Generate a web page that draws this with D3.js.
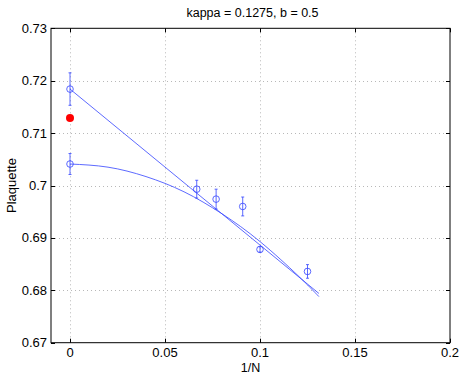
<!DOCTYPE html>
<html>
<head>
<meta charset="utf-8">
<script src="https://cdn.jsdelivr.net/npm/d3@7"></script>
<style>
  html, body { margin: 0; padding: 0; background: #fff; }
  svg { display: block; font-family: "Liberation Sans", Arial, Helvetica, sans-serif; }
</style>
</head>
<body>
<svg id="chart" width="463" height="377"></svg>
<script>
// ---- data ----
const title = "kappa = 0.1275, b = 0.5";
const xLabel = "1/N";
const yLabel = "Plaquette";
const xTicks = [0, 0.05, 0.1, 0.15, 0.2];
const xTickLabels = ["0", "0.05", "0.1", "0.15", "0.2"];
const yTicks = [0.67, 0.68, 0.69, 0.7, 0.71, 0.72, 0.73];
const yTickLabels = ["0.67", "0.68", "0.69", "0.7", "0.71", "0.72", "0.73"];

// measured points (1/N, plaquette, error)
const invN = [0.0667, 0.0769, 0.0909, 0.1, 0.125];
const plaq = [0.6993, 0.6974, 0.6960, 0.6878, 0.6836];
const plaqErr = [0.0017, 0.0019, 0.0018, 0.0005, 0.0013];

// extrapolated values at 1/N = 0
const extrapX = [0, 0];
const extrapY = [0.7184, 0.7041];
const extrapErr = [0.0031, 0.0020];

// reference (red) point
const refX = [0];
const refY = [0.7129];

// fit curves
const linFitX = [0, 0.131];
const linFitY = [0.7184, 0.6794];
const quadFitX = [0, 0.02, 0.04, 0.06, 0.08, 0.10, 0.12, 0.131];
const quadFitY = [0.7041, 0.7035, 0.7017, 0.6988, 0.6946, 0.6893, 0.6828, 0.6788];

// ---- layout ----
const svg = d3.select("#chart");
const L = 51, R = 450, T = 28.3, B = 342.7;
const x = d3.scaleLinear().domain([-0.01, 0.2]).range([L, R]);
const y = d3.scaleLinear().domain([0.67, 0.73]).range([B, T]);
const blue = "#3344ff";

// grid
const grid = svg.append("g").attr("stroke", "#b8b8b8").attr("stroke-width", 1)
  .attr("stroke-dasharray", "1,3");
grid.selectAll("line.gx").data(xTicks.filter(t => t > -0.01 && t < 0.2)).enter()
  .append("line").attr("x1", d => Math.round(x(d)) + 0.5).attr("x2", d => Math.round(x(d)) + 0.5)
  .attr("y1", T).attr("y2", B);
grid.selectAll("line.gy").data(yTicks.filter(t => t > 0.67 && t < 0.73)).enter()
  .append("line").attr("y1", d => Math.round(y(d)) + 0.5).attr("y2", d => Math.round(y(d)) + 0.5)
  .attr("x1", L).attr("x2", R);

// fit lines
const lineGen = d3.line().x(d => x(d[0])).y(d => y(d[1]));
svg.append("path").datum(d3.zip(linFitX, linFitY)).attr("d", lineGen)
  .attr("fill", "none").attr("stroke", blue).attr("stroke-width", 0.8);
svg.append("path").datum(d3.zip(quadFitX, quadFitY))
  .attr("d", lineGen.curve(d3.curveNatural))
  .attr("fill", "none").attr("stroke", blue).attr("stroke-width", 0.8);

// error bars + markers
function drawPoints(xs, ys, es) {
  const g = svg.append("g").attr("stroke", blue).attr("stroke-width", 0.8).attr("fill", "none");
  const data = d3.zip(xs, ys, es);
  g.selectAll("line.e").data(data).enter().append("line")
    .attr("x1", d => x(d[0])).attr("x2", d => x(d[0]))
    .attr("y1", d => y(d[1] - d[2])).attr("y2", d => y(d[1] + d[2]));
  g.selectAll("line.c1").data(data).enter().append("line")
    .attr("x1", d => x(d[0]) - 1.5).attr("x2", d => x(d[0]) + 1.5)
    .attr("y1", d => y(d[1] + d[2])).attr("y2", d => y(d[1] + d[2]));
  g.selectAll("line.c2").data(data).enter().append("line")
    .attr("x1", d => x(d[0]) - 1.5).attr("x2", d => x(d[0]) + 1.5)
    .attr("y1", d => y(d[1] - d[2])).attr("y2", d => y(d[1] - d[2]));
  g.selectAll("circle").data(data).enter().append("circle")
    .attr("cx", d => x(d[0])).attr("cy", d => y(d[1])).attr("r", 3.3);
}
drawPoints(invN, plaq, plaqErr);
drawPoints(extrapX, extrapY, extrapErr);

// red point
svg.selectAll("circle.ref").data(d3.zip(refX, refY)).enter().append("circle")
  .attr("cx", d => x(d[0])).attr("cy", d => y(d[1])).attr("r", 4).attr("fill", "#ff0000");

// frame
svg.append("rect").attr("x", L).attr("y", T).attr("width", R - L).attr("height", B - T)
  .attr("fill", "none").attr("stroke", "#000").attr("stroke-width", 1);

// ticks (inward on all sides)
const tk = svg.append("g").attr("stroke", "#000").attr("stroke-width", 1);
xTicks.forEach(t => {
  const px = Math.round(x(t)) + 0.5;
  tk.append("line").attr("x1", px).attr("x2", px).attr("y1", B).attr("y2", B - 4);
  tk.append("line").attr("x1", px).attr("x2", px).attr("y1", T).attr("y2", T + 4);
});
yTicks.forEach(t => {
  const py = Math.round(y(t)) + 0.5;
  tk.append("line").attr("x1", L).attr("x2", L + 4).attr("y1", py).attr("y2", py);
  tk.append("line").attr("x1", R).attr("x2", R - 4).attr("y1", py).attr("y2", py);
});

// tick labels
svg.append("g").selectAll("text").data(d3.zip(xTicks, xTickLabels)).enter().append("text")
  .attr("x", d => x(d[0])).attr("y", 356.5).attr("text-anchor", "middle")
  .attr("font-size", 13).text(d => d[1]);
svg.append("g").selectAll("text").data(d3.zip(yTicks, yTickLabels)).enter().append("text")
  .attr("x", 47).attr("y", d => y(d[0]) + 4.5).attr("text-anchor", "end")
  .attr("font-size", 13).text(d => d[1]);

// labels
svg.append("text").attr("x", (L + R) / 2 + 2).attr("y", 17).attr("text-anchor", "middle")
  .attr("font-size", 12.5).text(title);
svg.append("text").attr("x", (L + R) / 2).attr("y", 372).attr("text-anchor", "middle")
  .attr("font-size", 12.5).text(xLabel);
svg.append("text").attr("transform", `translate(16,${(T + B) / 2}) rotate(-90)`)
  .attr("text-anchor", "middle").attr("font-size", 13).text(yLabel);
</script>
</body>
</html>
